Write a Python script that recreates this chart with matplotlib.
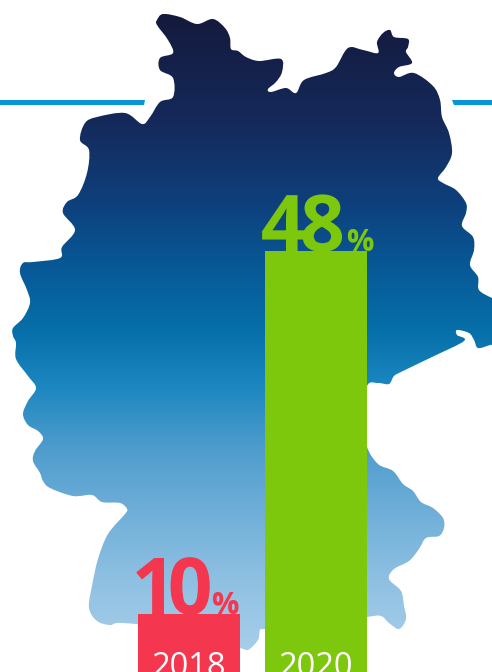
import numpy as np
import matplotlib
matplotlib.use("Agg")
import matplotlib.pyplot as plt
from matplotlib.path import Path
from matplotlib.patches import PathPatch
from matplotlib.patheffects import AbstractPathEffect
from matplotlib.colors import LinearSegmentedColormap

years = ["2018", "2020"]
shares = [10, 48]
bar_colors = ["#F5364F", "#7DC70C"]
line_color = "#0A96D6"
FONT = "Open Sans"

# Decorative Germany outline in picture pixels
outline = [
    (157,20),(163,14),(180,17),(197,24),(213,19),(225,28),(230,38),(231,49),(238,51),(246,57),
    (259,61),(281,59),(282,72),(276,82),(268,89),(271,92),(286,88),(296,93),(304,80),(326,73),
    (336,67),(348,48),(363,50),(378,53),(377,42),(383,33),(390,30),(394,37),(408,39),(408,47),
    (406,52),(412,63),(399,67),(394,73),(399,77),(414,73),(433,86),(440,100),(442,117),(449,133),
    (452,153),(446,167),(438,178),(443,183),(456,190),(466,203),(466,213),(462,226),(473,237),
    (474,250),(470,265),(478,277),(479,290),(492,298),(499,300),(499,342),(490,345),(478,348),
    (474,340),(469,333),(457,330),(457,335),(464,341),(432,357),(403,371),(394,376),(389,384),
    (378,383),(367,386),(362,420),(367,447),(378,464),(393,471),(403,484),(413,491),(421,502),
    (433,508),(443,518),(444,528),(439,536),(426,538),(419,549),(409,561),(394,569),(389,579),
    (401,591),(404,606),(406,619),(399,629),(389,623),(381,616),(367,617),(320,625),(265,629),
    (260,630),(258,640),(248,650),(240,648),(180,630),(123,623),(110,625),(97,621),(89,608),
    (92,586),(98,559),(108,534),(125,514),(127,509),(120,503),(102,502),(92,495),(73,496),
    (50,488),(43,481),(40,473),(33,461),(35,451),(43,439),(38,431),(28,425),(23,414),(28,401),
    (36,388),(28,376),(16,359),(16,343),(13,336),(13,328),(23,318),(30,303),(27,290),(20,273),
    (23,263),(33,262),(60,258),(62,247),(75,230),(63,213),(67,202),(78,195),(87,173),(89,150),
    (80,140),(85,123),(97,117),(125,113),(142,124),(150,117),(160,102),(173,97),(173,78),
    (160,70),(160,58),(173,53),(168,40),(157,25),
]
gradient_stops = [
    (14, "#141A3C"), (120, "#15295A"), (200, "#0E3F7B"), (260, "#085694"), (330, "#066FA9"),
    (385, "#1B86BF"), (450, "#4F9DCD"), (520, "#73B1DA"), (580, "#8FC0E2"), (650, "#A6CEE9"),
]


class Tracking(AbstractPathEffect):
    """Tightens the spacing of tabular digits in a real text object."""
    def __init__(self, advance, amount):
        super().__init__()
        self.advance, self.amount = advance, amount

    def draw_path(self, renderer, gc, tpath, affine, rgbFace=None):
        v = tpath.vertices.copy()
        v[:, 0] -= np.floor(v[:, 0] / self.advance) * self.amount
        renderer.draw_path(gc, Path(v, tpath.codes), affine, rgbFace)


def smooth_path(pts):
    p = np.asarray(pts, float)
    n = len(p)
    verts, codes = [p[0]], [Path.MOVETO]
    for i in range(n):
        p0, p1, p2, p3 = p[i-1], p[i], p[(i+1) % n], p[(i+2) % n]
        verts += [p1 + (p2-p0)/6, p2 - (p3-p1)/6, p2]
        codes += [Path.CURVE4]*3
    return Path(verts, codes)


fig = plt.figure(figsize=(4.92, 6.72), dpi=100, facecolor="white")

# background layer, in picture pixels
bg = fig.add_axes([0, 0, 1, 1])
bg.axis("off")
bg.fill([0, 145, 144, 0], [100, 100, 105, 105], color=line_color, lw=0)
bg.fill([452, 492, 492, 454], [100, 100, 105, 105], color=line_color, lw=0)

ys = np.array([s[0] for s in gradient_stops], float)
fr = (ys - ys[0]) / (ys[-1] - ys[0])
cmap = LinearSegmentedColormap.from_list("map", list(zip(fr, [s[1] for s in gradient_stops])), N=512)
im = bg.imshow(np.linspace(0, 1, 512)[:, None], cmap=cmap, aspect="auto",
               extent=[0, 492, ys[-1], ys[0]], interpolation="bilinear", zorder=1)
bg.set_xlim(0, 492)
bg.set_ylim(672, 0)
clip = PathPatch(smooth_path(outline), transform=bg.transData, fc="none", ec="none")
bg.add_patch(clip)
im.set_clip_path(clip)

# bars in their own data scale
ax = fig.add_axes([0, 0, 1, 1])
ax.patch.set_alpha(0)
ax.axis("off")
ax.set_xlim(-1.488, 2.386)
ax.set_ylim(3.93, 74.3)
xs = np.arange(len(years))
ax.bar(xs, shares, width=0.803, bottom=0, color=bar_colors, lw=0, zorder=2)

styles = [
    dict(num_dx=-0.452, pct_dx=0.176, track=11.0),
    dict(num_dx=-0.435, pct_dx=0.238, track=7.0),
]
for x, v, c, yr, st in zip(xs, shares, bar_colors, years, styles):
    t = ax.text(x + st["num_dx"], v, f"{v}", color=c, fontsize=56.5, fontfamily=FONT,
                fontweight="bold", ha="left", va="baseline", zorder=1.5)
    t.set_path_effects([Tracking(57.1, st["track"])])
    ax.text(x + st["pct_dx"], v, "%", color=c, fontsize=22, fontfamily=FONT,
            fontweight="bold", ha="left", va="baseline", zorder=1.5)
    ax.text(x, 3.5, yr, color="white", fontsize=23.5, fontfamily=FONT, ha="center",
            va="baseline", zorder=3, clip_on=False)

fig.savefig("out.png", dpi=100, facecolor="white")
